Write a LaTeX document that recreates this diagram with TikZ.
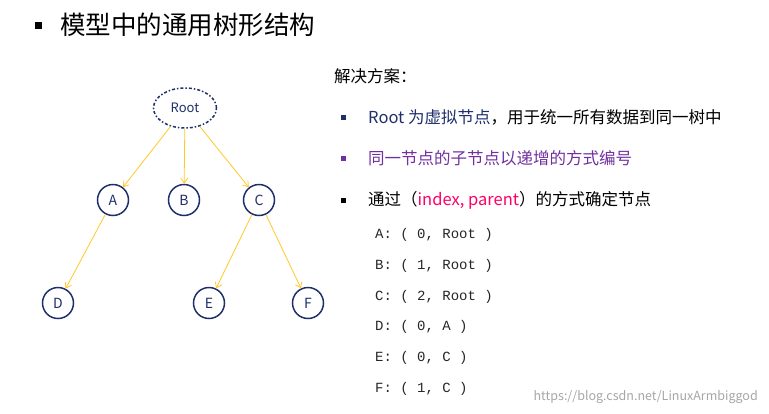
\documentclass[tikz,border=0pt]{standalone}
\usepackage{fontspec}
\setmainfont{Noto Sans CJK SC}
\newfontfamily\cjk{Noto Sans CJK SC}
\setmonofont{Liberation Mono}
\usetikzlibrary{shapes.geometric,arrows.meta}
\definecolor{navy}{HTML}{1F2F6B}
\definecolor{purp}{HTML}{7030A0}
\definecolor{pinkc}{HTML}{FF0066}
\definecolor{gold}{HTML}{FFC828}
\tikzset{
 tn/.style={circle,draw=navy,line width=1.5pt,minimum size=31pt,inner sep=0pt,text=navy,font=\fontsize{14}{14}\selectfont},
 edge/.style={draw=gold,line width=0.8pt,-{Straight Barb[length=5pt,width=7pt]}},
 txt/.style={anchor=west,inner sep=0pt,font=\fontsize{16.5}{16.5}\selectfont},
 code/.style={anchor=west,inner sep=0pt,font=\ttfamily\fontsize{14}{14}\selectfont,text=black!85},
 bul/.style={fill,minimum size=5pt,inner sep=0pt}
}
\begin{document}
\begin{tikzpicture}[x=1pt,y=-1pt]
\useasboundingbox (0,0) rectangle (769,413);
\node[bul,minimum size=7pt,fill=black] (tb) at (38,25) {};
\node[txt,font=\fontsize{25.5}{25.5}\selectfont] (title) at (60,25) {模型中的通用树形结构};
\node[ellipse,draw=navy,line width=1.5pt,dash dot,minimum width=63pt,minimum height=40pt,text=navy,font=\fontsize{13}{13}\selectfont] (R) at (185,108) {Root};
\node[tn] (A) at (113,200) {A};
\node[tn] (B) at (184,200) {B};
\node[tn] (C) at (259,200) {C};
\node[tn] (D) at (58,303) {D};
\node[tn] (E) at (209,303) {E};
\node[tn] (F) at (308,303) {F};
\draw[edge] (R) -- (A);
\draw[edge] (R) -- (B);
\draw[edge] (R) -- (C);
\draw[edge] (A) -- (D);
\draw[edge] (C) -- (E);
\draw[edge] (C) -- (F);
\node[txt] (h) at (334,76) {解决方案：};
\node[bul,fill=navy] (b1) at (343,117) {};
\node[txt] (t1) at (368,117) {\textcolor{navy}{Root 为虚拟节点}，用于统一所有数据到同一树中};
\node[bul,fill=purp] (b2) at (343,158) {};
\node[txt,text=purp] (t2) at (368,158) {同一节点的子节点以递增的方式编号};
\node[bul,fill=black] (b3) at (343,200) {};
\node[txt] (t3) at (368,200) {通过（\textcolor{pinkc}{index, parent}）的方式确定节点};
\node[code] (c1) at (375,235) {A:\ (\ 0,\ Root\ )};
\node[code] (c2) at (375,266) {B:\ (\ 1,\ Root\ )};
\node[code] (c3) at (375,297) {C:\ (\ 2,\ Root\ )};
\node[code] (c4) at (375,327) {D:\ (\ 0,\ A\ )};
\node[code] (c5) at (375,358) {E:\ (\ 0,\ C\ )};
\node[code] (c6) at (375,389) {F:\ (\ 1,\ C\ )};
\node[anchor=east,inner sep=0pt,text=black!35,font=\fontsize{12.5}{12.5}\selectfont] (wm) at (758,397) {https://blog.csdn.net/LinuxArmbiggod};
\end{tikzpicture}
\end{document}
